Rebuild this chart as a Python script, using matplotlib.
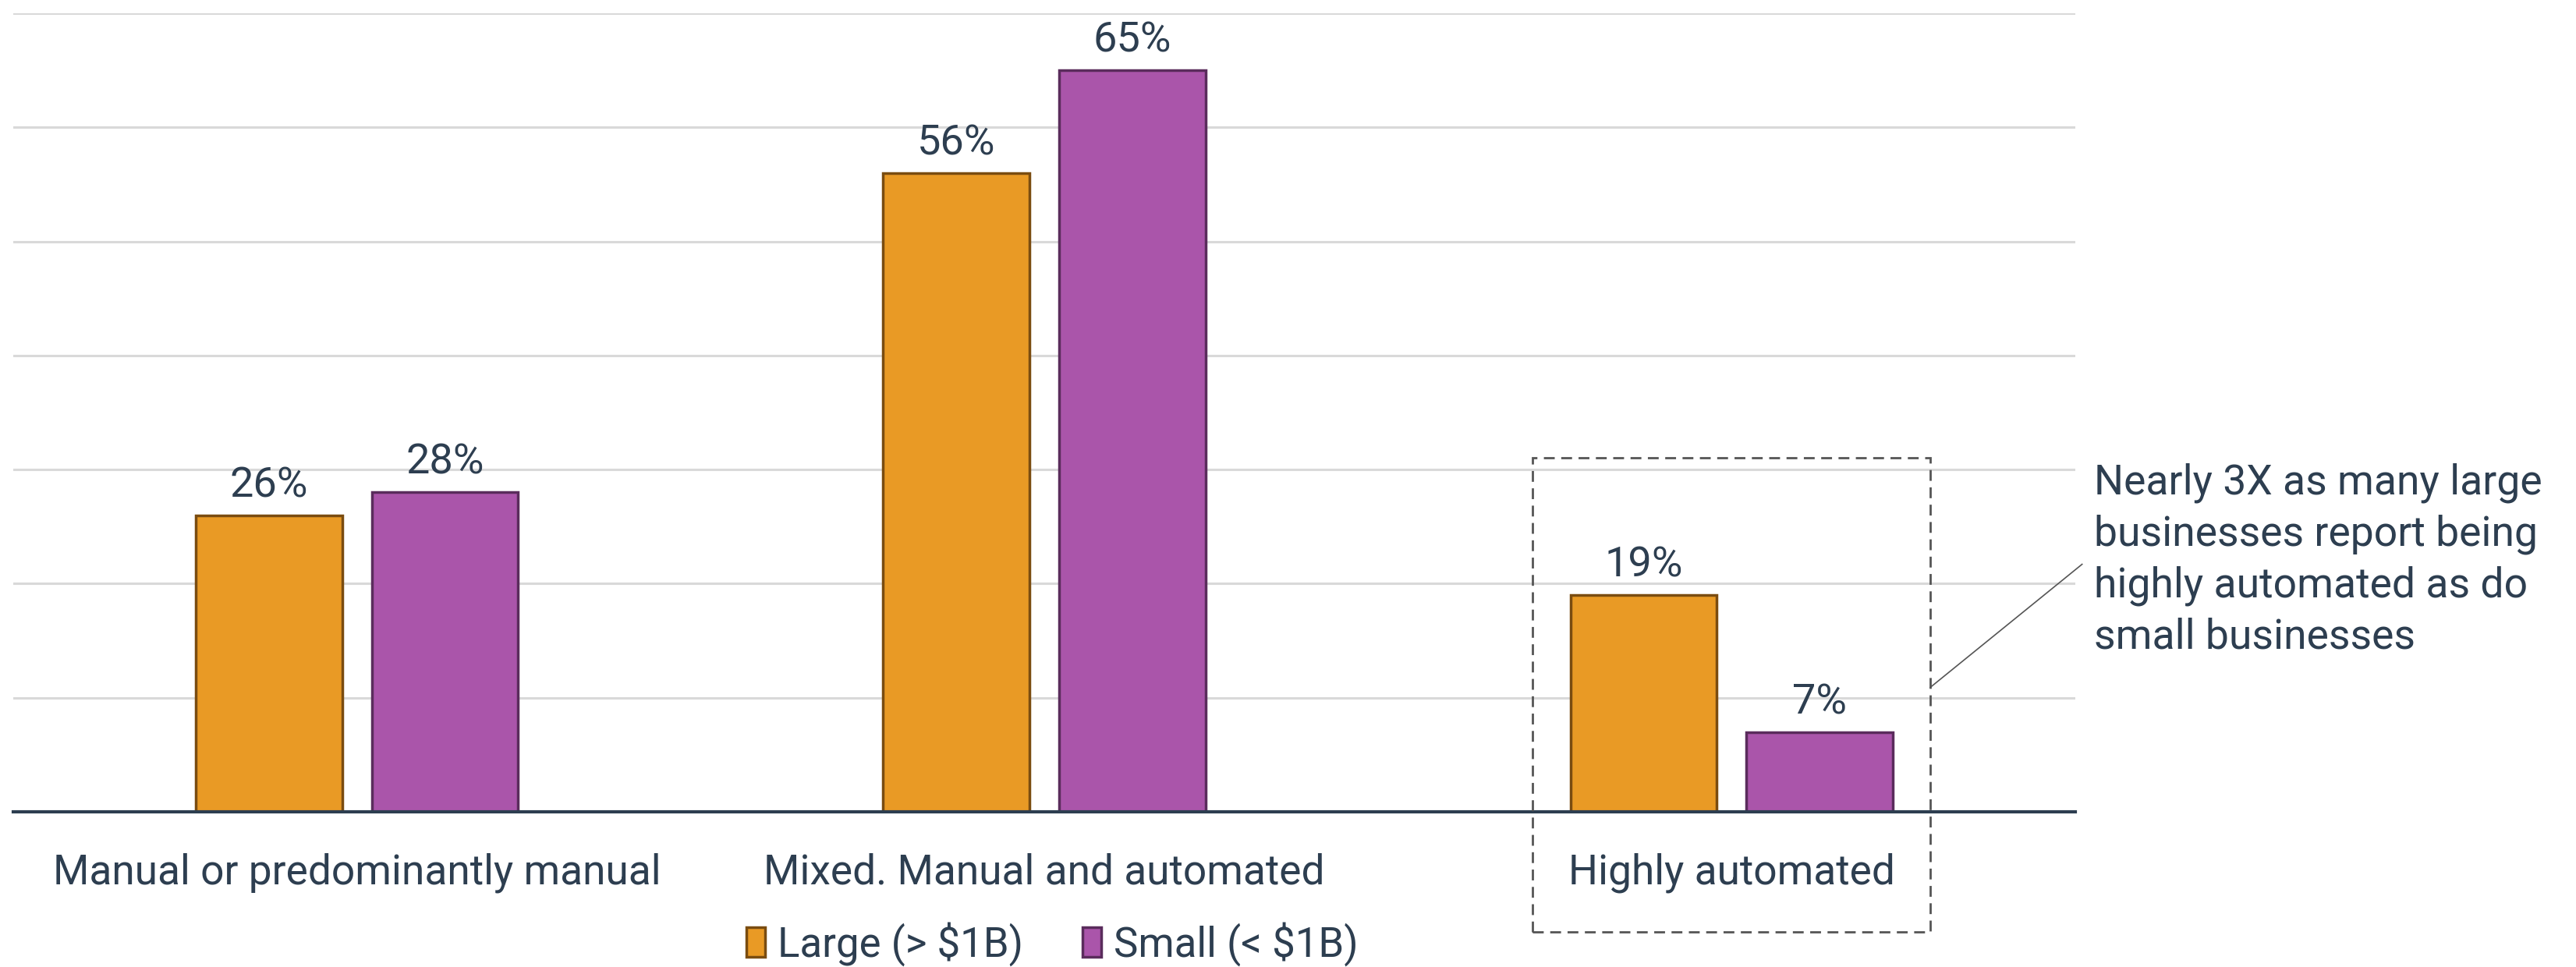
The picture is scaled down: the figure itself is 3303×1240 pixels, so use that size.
import matplotlib
matplotlib.use("Agg")
import matplotlib.pyplot as plt
from matplotlib.patches import Rectangle, Patch
import numpy as np

plt.rcParams['font.family'] = ['Roboto', 'DejaVu Sans']

categories = ["Manual or predominantly manual", "Mixed. Manual and automated", "Highly automated"]
series_names = ["Large (> $1B)", "Small (< $1B)"]
large_values = [26, 56, 19]
small_values = [28, 65, 7]

TEXT = "#2D3E50"
FILL = ["#E99A25", "#AA55AA"]
EDGE = ["#7A4C10", "#5A2C5C"]

fig = plt.figure(figsize=(33.03, 12.40), dpi=100)
ax = fig.add_axes([0.0052, 0.1605, 0.8004, 0.8258])

x = np.arange(len(categories))
width = 0.213
offset = 0.128
for vals, off, fc, ec, name in [(large_values, -offset, FILL[0], EDGE[0], series_names[0]),
                                 (small_values, offset, FILL[1], EDGE[1], series_names[1])]:
    bars = ax.bar(x + off, vals, width, color=fc, edgecolor=ec, linewidth=2.5,
                  label=name, zorder=3)
    ax.bar_label(bars, labels=[f"{v}%" for v in vals], padding=9,
                 fontsize=39, color=TEXT)

ax.set_xlim(-0.5, 2.5)
ax.set_ylim(0, 70)
ax.set_yticks(np.arange(10, 71, 10))
ax.yaxis.grid(True, color="#D9D9D9", linewidth=2.2, zorder=0)
ax.set_yticklabels([])
ax.tick_params(axis='y', length=0)
ax.set_xticks(x)
ax.set_xticklabels(categories, fontsize=38.3, color=TEXT)
ax.tick_params(axis='x', length=0, pad=38)
for s in ["left", "right", "top"]:
    ax.spines[s].set_visible(False)
ax.spines["bottom"].set_color(TEXT)
ax.spines["bottom"].set_linewidth(3)
ax.spines["bottom"].set_zorder(4)

# dashed highlight around the third group
box = Rectangle((1.71, -10.5), 0.579, 41.5, fill=False, linestyle=(0, (5, 3)),
                edgecolor="#555555", linewidth=2, clip_on=False, zorder=5)
ax.add_patch(box)
ax.plot([2.289, 2.51], [10.9, 21.7], color="#555555", linewidth=1.2,
        clip_on=False, zorder=5)

fig.text(0.8128, 0.521,
         "Nearly 3X as many large\nbusinesses report being\nhighly automated as do\nsmall businesses",
         fontsize=38.5, color=TEXT, va="top", ha="left", linespacing=1.36)

handles = [Patch(facecolor=FILL[i], edgecolor=EDGE[i], linewidth=2.5, label=series_names[i])
           for i in range(2)]
fig.legend(handles=handles, loc="center", bbox_to_anchor=(0.4085, 0.024), ncol=2,
           frameon=False, fontsize=38, labelcolor=TEXT, handlelength=0.45,
           handleheight=0.75, handletextpad=0.3, columnspacing=1.45)

fig.savefig("out.png", dpi=100, facecolor="white")
